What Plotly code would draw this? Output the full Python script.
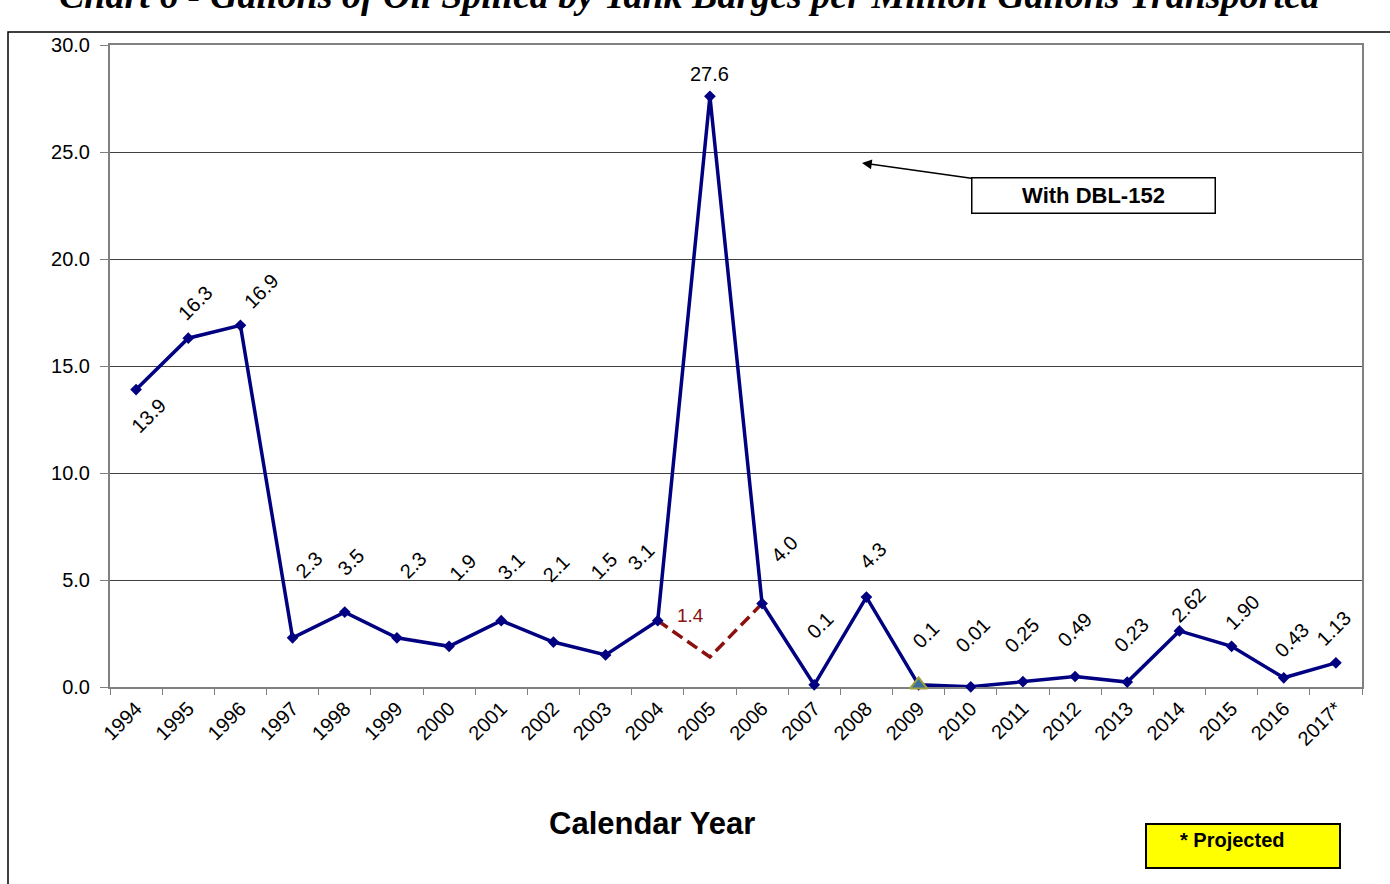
import plotly.graph_objects as go

years = ["1994", "1995", "1996", "1997", "1998", "1999", "2000", "2001", "2002", "2003",
         "2004", "2005", "2006", "2007", "2008", "2009", "2010", "2011", "2012", "2013",
         "2014", "2015", "2016", "2017*"]
gallons = [13.9, 16.3, 16.9, 2.3, 3.5, 2.3, 1.9, 3.1, 2.1, 1.5,
           3.1, 27.6, 3.9, 0.1, 4.2, 0.1, 0.01, 0.25, 0.49, 0.23,
           2.62, 1.90, 0.43, 1.13]
labels = ["13.9", "16.3", "16.9", "2.3", "3.5", "2.3", "1.9", "3.1", "2.1", "1.5",
          "3.1", "27.6", "4.0", "0.1", "4.3", "0.1", "0.01", "0.25", "0.49", "0.23",
          "2.62", "1.90", "0.43", "1.13"]
# label offsets in pixels (dx right, dy up)
label_dx = [12, 7, 21, 16, 6, 16, 14, 10, 3, -2, -17, 0, 22, 6, 7, 7, 2, -1, -1, 4, 9, 11, 8, -2]
label_dy = [-26, 35, 34, 73, 50, 73, 79, 55, 74, 89, 64, 22, 55, 60, 42, 50, 52, 47, 47, 47, 26, 34, 38, 35]
label_angle = [-45] * 24
label_angle[11] = 0

without_years = ["2004", "2005", "2006"]
without_vals = [3.1, 1.4, 3.9]
without_label = "1.4"

highlight_year = ["2009"]
highlight_val = [0.1]

title_text = "Chart 6 - Gallons of Oil Spilled by Tank Barges per Million Gallons Transported"

W, H = 1390, 884
L, R, T, B = 110, 28, 45, 197
pw, ph = W - L - R, H - T - B


def px(x):
    return (x - L) / pw


def py(y):
    return (H - B - y) / ph


NAVY = "#000080"
DRED = "#8B1010"
FONT = "Liberation Sans, Arial, sans-serif"

fig = go.Figure()
fig.add_trace(go.Scatter(x=without_years, y=without_vals, mode="lines",
                         line=dict(color=DRED, width=3.5, dash="12px,6px"),
                         hoverinfo="skip", showlegend=False))
fig.add_trace(go.Scatter(x=years, y=gallons, mode="lines+markers", cliponaxis=False,
                         line=dict(color=NAVY, width=3.5),
                         marker=dict(symbol="diamond", size=9, color=NAVY),
                         showlegend=False))
fig.add_trace(go.Scatter(x=highlight_year, y=highlight_val, mode="markers", cliponaxis=False,
                         marker=dict(symbol="triangle-up", size=15, color="#3C6E9C",
                                     line=dict(color="#A0A040", width=2)),
                         showlegend=False))

ann = []
for i, (v, t, dx, dy, a) in enumerate(zip(gallons, labels, label_dx, label_dy, label_angle)):
    ann.append(dict(x=i, y=v, xref="x", yref="y", text=t, showarrow=False,
                    xshift=dx, yshift=dy, textangle=a,
                    font=dict(family=FONT, size=20, color="black")))
ann.append(dict(x=years.index(without_years[1]), y=without_vals[1], xref="x", yref="y",
                text=without_label, showarrow=False, xshift=-19, yshift=42,
                font=dict(family=FONT, size=19, color=DRED)))

# title (cut off at top, as in the source image)
ann.append(dict(x=px(690), y=py(18), xref="paper", yref="paper", text="<b><i>" + title_text + "</i></b>",
                showarrow=False, xanchor="center", yanchor="bottom",
                font=dict(family="Liberation Serif, Times New Roman, serif", size=38, color="black")))
# axis title
ann.append(dict(x=px(652), y=py(823), xref="paper", yref="paper", text="<b>Calendar Year</b>",
                showarrow=False, xanchor="center", yanchor="middle",
                font=dict(family=FONT, size=31, color="black")))
# DBL-152 callout
ann.append(dict(x=px(862), y=py(163), xref="paper", yref="paper", text="<b>With DBL-152</b>",
                showarrow=True, ax=231, ay=32, arrowhead=2, arrowsize=1.3, arrowwidth=1.5,
                arrowcolor="black", bgcolor="white", bordercolor="black", borderwidth=1.5,
                width=240, height=32, borderpad=1,
                font=dict(family=FONT, size=22, color="black")))
# Projected note
ann.append(dict(x=px(1232), y=py(840), xref="paper", yref="paper", text="<b>* Projected</b>",
                showarrow=False, xanchor="center", yanchor="middle",
                font=dict(family=FONT, size=20, color="black")))

shapes = [
    dict(type="rect", xref="paper", yref="paper", x0=px(8), x1=px(1395), y0=py(890), y1=py(32),
         line=dict(color="black", width=1.5), fillcolor="rgba(0,0,0,0)", layer="below"),
    dict(type="rect", xref="paper", yref="paper", x0=px(1146), x1=px(1340), y0=py(868), y1=py(824),
         line=dict(color="black", width=2), fillcolor="#FFFF00", layer="below"),
]

fig.update_layout(
    width=W, height=H,
    margin=dict(l=L, r=R, t=T, b=B),
    paper_bgcolor="white", plot_bgcolor="white",
    annotations=ann, shapes=shapes,
    font=dict(family=FONT, size=20, color="black"),
    xaxis=dict(type="category", categoryorder="array", categoryarray=years,
               range=[-0.5, len(years) - 0.5], autorange=False, layer="below traces",
               tickangle=-45, tickson="boundaries", ticks="outside",
               ticklen=6, tickcolor="#808080", showline=True, linecolor="#808080", linewidth=2,
               mirror=True, showgrid=False, tickfont=dict(family=FONT, size=20, color="black")),
    yaxis=dict(range=[0, 30], autorange=False, dtick=5, tickformat=".1f", ticks="outside", ticklen=8,
               tickcolor="#808080", showline=True, linecolor="#808080", linewidth=2,
               ticklabelstandoff=6, layer="below traces",
               mirror=True, showgrid=True, gridcolor="#404040", gridwidth=1, zeroline=False,
               tickfont=dict(family=FONT, size=20, color="black")),
)

fig.write_html("out.html", config={"displayModeBar": False},
               post_script="document.body.style.margin='0px';")
